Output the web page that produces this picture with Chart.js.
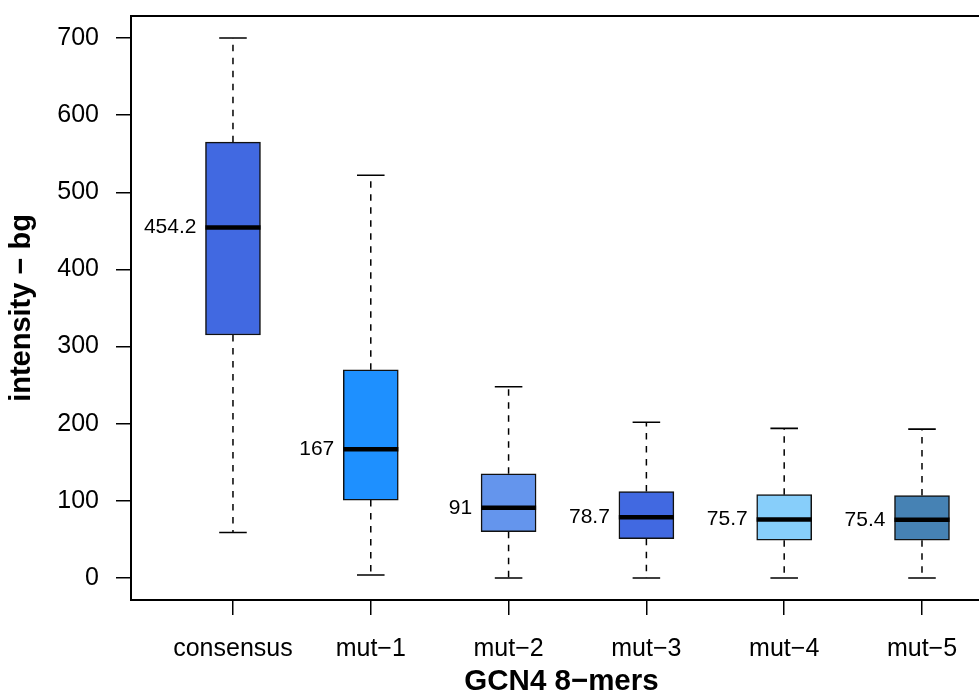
<!DOCTYPE html>
<html>
<head>
<meta charset="utf-8">
<script src="https://cdn.jsdelivr.net/npm/chart.js@4"></script>
<style>
  html, body { margin: 0; padding: 0; background: #fff; overflow: hidden; }
  #wrap { width: 979px; height: 695px; overflow: hidden; }
</style>
</head>
<body>
<div id="wrap"><canvas id="box" width="992" height="695"></canvas></div>
<script>
// data
const groups = ['consensus', 'mut−1', 'mut−2', 'mut−3', 'mut−4', 'mut−5'];
const groupPos = [1, 2, 3, 4, 5, 6];
const whiskerLow = [59, 4, 0, 0, 0, 0];
const q1 = [315, 101, 60, 51, 49, 49];
const medians = [454.2, 167, 91, 78.7, 75.7, 75.4];
const q3 = [565, 270, 135, 112, 108, 107];
const whiskerHigh = [700, 522, 248, 202, 194, 193];
const medianLabels = ['454.2', '167', '91', '78.7', '75.7', '75.4'];
const boxColors = ['#4169E1', '#1E90FF', '#6495ED', '#4169E1', '#87CEFA', '#4682B4'];
const yTicks = [0, 100, 200, 300, 400, 500, 600, 700];

const FONT = "'Liberation Sans', Arial, Helvetica, sans-serif";

// whiskers, caps, medians, labels and the frame
const boxPlot = {
  id: 'boxPlot',
  beforeDatasetsDraw(chart) {
    const { ctx, scales: { x, y } } = chart;
    ctx.save();
    ctx.strokeStyle = '#000';
    groupPos.forEach((p, i) => {
      const cx = x.getPixelForValue(p);
      const capL = x.getPixelForValue(p - 0.1);
      const capR = x.getPixelForValue(p + 0.1);
      // dashed whiskers
      ctx.lineWidth = 1.5;
      ctx.setLineDash([6.5, 6.5]);
      ctx.beginPath();
      ctx.moveTo(cx, y.getPixelForValue(q3[i]));
      ctx.lineTo(cx, y.getPixelForValue(whiskerHigh[i]));
      ctx.moveTo(cx, y.getPixelForValue(q1[i]));
      ctx.lineTo(cx, y.getPixelForValue(whiskerLow[i]));
      ctx.stroke();
      // caps
      ctx.setLineDash([]);
      ctx.lineWidth = 1.6;
      ctx.beginPath();
      [whiskerHigh[i], whiskerLow[i]].forEach(v => {
        const py = y.getPixelForValue(v);
        ctx.moveTo(capL, py);
        ctx.lineTo(capR, py);
      });
      ctx.stroke();
    });
    ctx.restore();
  },
  afterDatasetsDraw(chart) {
    const { ctx, chartArea, scales: { x, y } } = chart;
    ctx.save();
    groupPos.forEach((p, i) => {
      const py = y.getPixelForValue(medians[i]);
      ctx.strokeStyle = '#000';
      ctx.lineWidth = 4.5;
      ctx.beginPath();
      ctx.moveTo(x.getPixelForValue(p - 0.2), py);
      ctx.lineTo(x.getPixelForValue(p + 0.2), py);
      ctx.stroke();
      ctx.fillStyle = '#000';
      ctx.font = '21px ' + FONT;
      ctx.textAlign = 'right';
      ctx.textBaseline = 'middle';
      ctx.fillText(medianLabels[i], x.getPixelForValue(p - 0.265), py);
    });
    // box frame (right side runs off the picture)
    ctx.lineWidth = 2;
    ctx.strokeStyle = '#000';
    ctx.beginPath();
    ctx.moveTo(chartArea.right + 10, chartArea.top);
    ctx.lineTo(chartArea.left, chartArea.top);
    ctx.lineTo(chartArea.left, chartArea.bottom);
    ctx.lineTo(chartArea.right + 10, chartArea.bottom);
    ctx.stroke();
    ctx.restore();
  }
};

new Chart(document.getElementById('box'), {
  type: 'bar',
  data: {
    datasets: [{
      data: groupPos.map((p, i) => ({ x: p, y: [q1[i], q3[i]] })),
      backgroundColor: boxColors,
      borderColor: '#111',
      borderWidth: 1.5,
      borderSkipped: false,
      barThickness: 55,
    }],
  },
  options: {
    responsive: false,
    animation: false,
    layout: { padding: { top: 16, right: 0, left: 0, bottom: 0 } },
    plugins: { legend: { display: false }, tooltip: { enabled: false } },
    scales: {
      x: {
        type: 'linear',
        offset: false,
        min: 0.26,
        max: 6.508,
        afterBuildTicks: axis => { axis.ticks = groupPos.map(v => ({ value: v })); },
        afterFit: axis => { axis.height = 95; axis.paddingLeft = 0; axis.paddingRight = 0; },
        border: { display: false },
        grid: { offset: false, drawOnChartArea: false, drawTicks: true, tickLength: 15, color: '#000', lineWidth: 1.5 },
        ticks: {
          color: '#000',
          font: { family: FONT, size: 25 },
          padding: 19,
          maxRotation: 0,
          autoSkip: false,
          callback: v => groups[groupPos.indexOf(v)],
        },
        title: {
          display: true,
          text: 'GCN4 8−mers',
          color: '#000',
          font: { family: FONT, size: 29.5, weight: 'bold', lineHeight: 0.9 },
          padding: { top: 0, bottom: 0 },
        },
      },
      y: {
        min: -28.5,
        max: 728.5,
        afterBuildTicks: axis => { axis.ticks = yTicks.map(v => ({ value: v })); },
        // fixed width, and no extra room for the end labels
        afterFit: axis => { axis.width = 131; axis.paddingTop = 0; axis.paddingBottom = 0; },
        border: { display: false },
        grid: { drawOnChartArea: false, drawTicks: true, tickLength: 15, color: '#000', lineWidth: 1.5 },
        ticks: {
          color: '#000',
          font: { family: FONT, size: 25 },
          padding: 17,
        },
        title: {
          display: true,
          text: 'intensity − bg',
          color: '#000',
          font: { family: FONT, size: 29, weight: 'bold' },
          padding: { top: 5, bottom: 0 },
        },
      },
    },
  },
  plugins: [boxPlot],
});
</script>
</body>
</html>
